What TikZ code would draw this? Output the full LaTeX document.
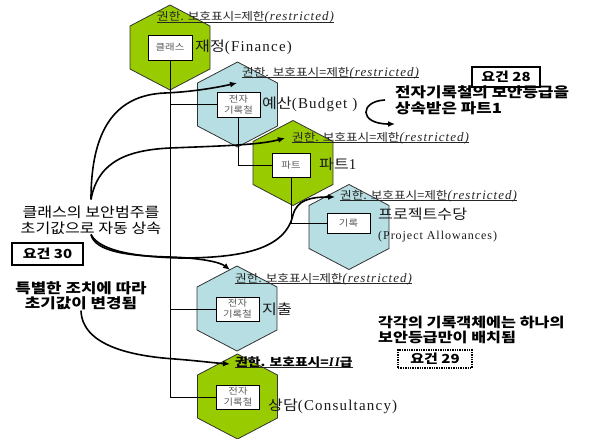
\documentclass[tikz,border=0pt]{standalone}
\usepackage{fontspec}
\setmainfont{Liberation Serif}
\newfontfamily\kr[FakeStretch=1.15]{Noto Sans CJK KR}
\newfontfamily\krb[FakeStretch=1.2]{Noto Sans CJK KR}
\newfontfamily\lat[LetterSpace=8]{Liberation Serif}
\usetikzlibrary{arrows.meta,backgrounds}

\definecolor{hexgreen}{RGB}{153,204,0}
\definecolor{hexblue}{RGB}{183,222,226}

\tikzset{
  hexa/.pic={\path[pic actions] (0,-42.5) -- (40,-21.5) -- (40,21.5) -- (0,42.5)
                                 -- (-40,21.5) -- (-40,-21.5) -- cycle;},
  hexg/.style={draw=black!80, line width=0.8pt, fill=hexgreen},
  hexb/.style={draw=black!80, line width=0.8pt, fill=hexblue},
  recbox/.style={draw=black, line width=0.8pt, fill=white, inner sep=1pt,
                 minimum width=43pt, minimum height=24pt, align=center,
                 text=black!65, font=\kr\fontsize{9}{11}\selectfont},
  conn/.style={draw=black, line width=0.9pt},
  lab/.style={anchor=base west, inner sep=0pt, text=black!85,
              font=\kr\fontsize{11}{13}\selectfont},
  uline/.style={draw=black!85, line width=0.7pt},
  recname/.style={anchor=west, inner sep=0pt, text=black!90,
                  font=\kr\fontsize{14}{16}\selectfont},
  note/.style={inner sep=0pt, font=\krb\bfseries\fontsize{14}{15.5}\selectfont},
  reqbox/.style={draw=black, line width=1.4pt, inner sep=0pt,
                 font=\krb\bfseries\fontsize{12.5}{14}\selectfont},
  curv/.style={line width=1.6pt, -{Latex[length=7pt,width=6pt]}},
}

\newcommand{\restr}{권한. 보호표시=제한{\lat\itshape\fontsize{13}{15}\selectfont(restricted)}}

\begin{document}
\begin{tikzpicture}[x=1pt,y=-1pt]
\useasboundingbox (0,0) rectangle (589,439);

% hexagons of the record hierarchy (kept behind everything)
\begin{scope}[on background layer]
\pic[hexg] at (170,47.5) {hexa};
\pic[hexb] at (237.5,104.5) {hexa};
\pic[hexg] at (293,163) {hexa};
\pic[hexb] at (349,227) {hexa};
\pic[hexb] at (237,308.5) {hexa};
\pic[hexg] at (237.5,396.5) {hexa};
\end{scope}

% boxes inside the hexagons
\node[recbox, minimum width=44pt, minimum height=25pt] (fin) at (170,47.5) {클래스};
\node[recbox, minimum height=25pt] (bud) at (238.5,104.5) {전자\\기록철};
\node[recbox, minimum width=38pt] (part) at (291,165) {파트};
\node[recbox, minimum height=20pt] (proj) at (348.5,223) {기록};
\node[recbox] (exp) at (237.5,309) {전자\\기록철};
\node[recbox] (con) at (238,397) {전자\\기록철};

% tree connectors, above the hexagons but under the boxes
\begin{scope}[on background layer]
\draw[conn] (fin.south) |- (con.west);
\draw[conn] (fin.south |- bud.west) -- (bud.west);
\draw[conn] (fin.south |- exp.west) -- (exp.west);
\draw[conn] (bud.south) |- (part.west);
\draw[conn] (part.south) |- (proj.west);
\end{scope}

% record names
\node[recname] (t1) at (195,47) {재정{\lat\fontsize{15}{17}\selectfont(Finance)}};
\node[recname] (t2) at (262,104) {예산{\lat\fontsize{15}{17}\selectfont(Budget )}};
\node[recname] (t3) at (319,164) {파트{\lat\fontsize{15}{17}\selectfont 1}};
\node[recname, anchor=north west] (t4) at (378,208) {프로젝트수당};
\node[anchor=north west, inner sep=0pt, text=black!90,
      font=\lat\fontsize{12}{14}\selectfont] (t4b) at (378,231) {(Project Allowances)};
\node[recname] (t5) at (262,309) {지출};
\node[recname] (t6) at (268,406) {상담{\lat\fontsize{15}{17}\selectfont(Consultancy)}};

% security labels
\node[lab] (L1) at (157,20.5) {\restr};
\node[lab] (L2) at (242,76) {\restr};
\node[lab] (L3) at (292,141) {\restr};
\node[lab] (L4) at (340,199) {\restr};
\node[lab] (L5) at (235,282) {\restr};
\node[lab, text=black, font=\krb\bfseries\fontsize{11.5}{13}\selectfont] (L6) at (235,366)
  {권한. 보호표시={\lat\bfseries\itshape\fontsize{13}{15}\selectfont II}급};
\foreach \l in {L1,L2,L3,L4,L5,L6}
  \draw[uline] ([yshift=-1.5pt]\l.base west) -- ([yshift=-1.5pt]\l.base east);

% requirement notes
\node[reqbox, minimum width=68pt, minimum height=20pt] (r28) at (506,77) {요건 28};
\node[note, anchor=west, align=left] (n28) at (395,100) {전자기록철의 보안등급을\\상속받은 파트1};
\node[inner sep=0pt, align=center, font=\kr\fontsize{14}{16}\selectfont] (inh) at (91,220)
  {클래스의 보안범주를\\초기값으로 자동 상속};
\node[reqbox, minimum width=71pt, minimum height=22pt] (r30) at (47.5,254) {요건 30};
\node[note, align=center] (n30) at (81,296) {특별한 조치에 따라\\초기값이 변경됨};
\node[note, anchor=west, align=left, font=\krb\bfseries\fontsize{13.5}{14.5}\selectfont]
  (n29) at (378,330) {각각의 기록객체에는 하나의\\보안등급만이 배치됨};
\node[reqbox, densely dotted, minimum width=74pt, minimum height=18pt] (r29) at (435,359) {요건 29};

% arrow targets
\coordinate (a2) at (237,83);
\coordinate (a3) at (285,138);
\coordinate (a4) at (335,197);
\coordinate (a5) at (230,270);
\coordinate (a6) at (230,364);
\coordinate (s28) at (385,100);
\coordinate (e28) at (395,124);

% inheritance arrows
\draw[curv] ([yshift=6pt]inh.north) .. controls (91,130) and (115,95) .. (165,93)
            .. controls (190,92) and (215,88) .. (a2);
\draw[curv] ([yshift=6pt]inh.north) .. controls (98,160) and (130,150) .. (170,148)
            .. controls (220,146) and (260,145) .. (a3);
\draw[curv] (inh.south) .. controls (95,252) and (130,256) .. (170,257)
            .. controls (200,258) and (220,262) .. (a5);
\draw[curv] (inh.south) .. controls (100,252) and (140,257) .. (180,258)
            .. controls (240,258) and (285,250) .. (293,215)
            .. controls (297,200) and (310,197) .. (a4);
\draw[curv] (n30.south) .. controls (82,345) and (130,356) .. (175,359)
            .. controls (200,361) and (215,363) .. (a6);
\draw[curv] (s28) .. controls (360,101) and (358,124) .. (e28);
\end{tikzpicture}
\end{document}
